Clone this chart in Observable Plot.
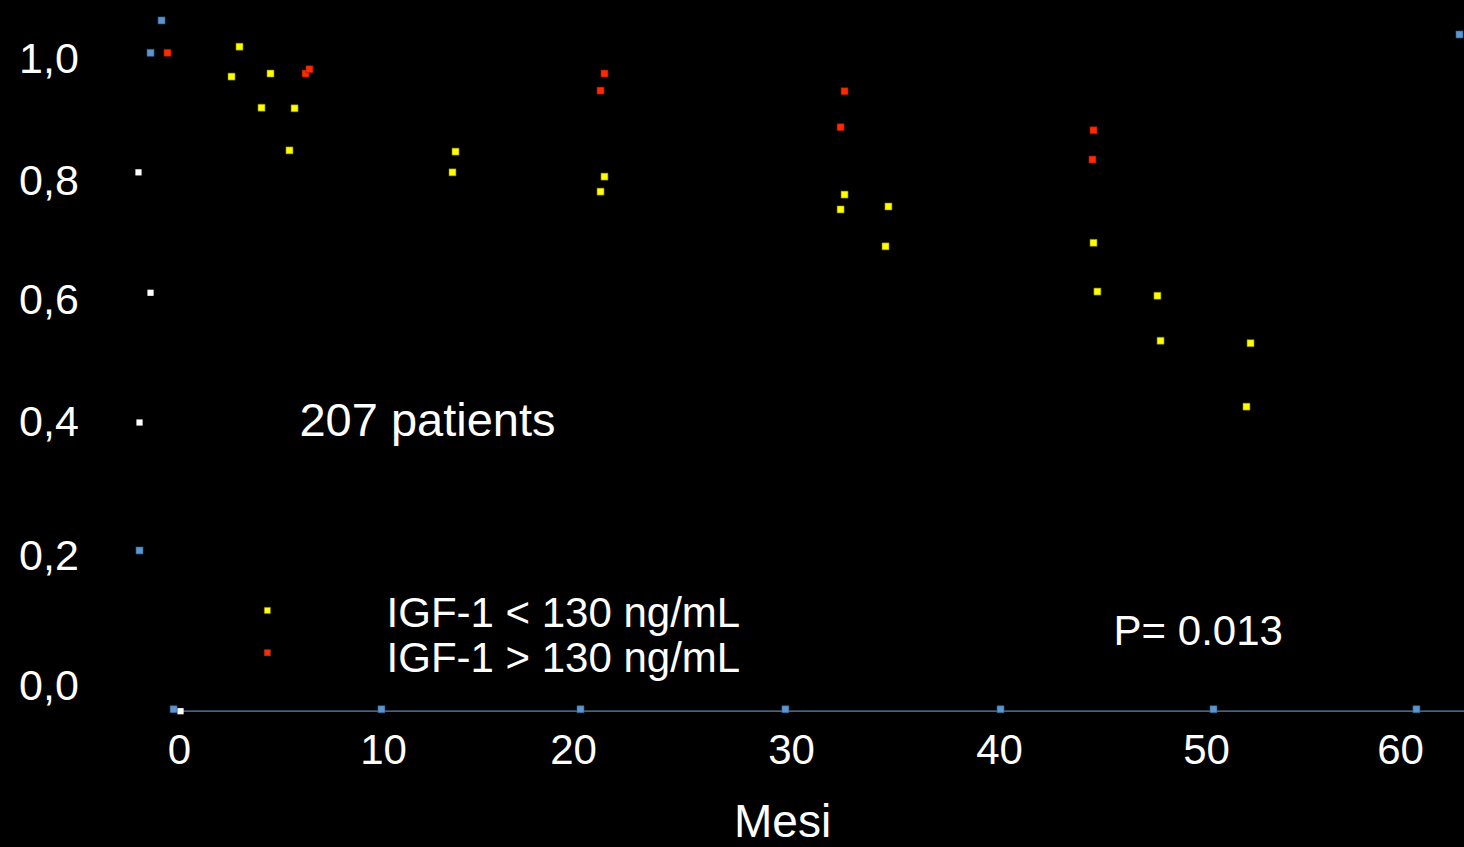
<!DOCTYPE html>
<html>
<head>
<meta charset="utf-8">
<script src="https://cdn.jsdelivr.net/npm/d3@7"></script>
<script src="https://cdn.jsdelivr.net/npm/@observablehq/plot@0.6"></script>
<style>
  html, body { margin: 0; padding: 0; background: #000; overflow: hidden; }
  #chart svg { display: block; }
</style>
</head>
<body>
<div id="chart"></div>
<script>
// ---- Data ----
const xTicks = [0, 10, 20, 30, 40, 50, 60];
const xTickLabels = ["0", "10", "20", "30", "40", "50", "60"];
const yTicks = [0, 0.2, 0.4, 0.6, 0.8, 1.0];
const yTickLabels = ["0,0", "0,2", "0,4", "0,6", "0,8", "1,0"];

// IGF-1 < 130 ng/mL (yellow)
const lowMonths = [2.94, 2.55, 4.46, 4.02, 5.64, 5.39, 13.79, 13.63, 21.42, 21.24, 32.55, 32.36, 34.66, 34.52, 44.54, 44.73, 47.63, 47.78, 52.27, 52.06];
const lowSurv   = [1.021, 0.972, 0.977, 0.921, 0.920, 0.851, 0.849, 0.815, 0.808, 0.783, 0.778, 0.753, 0.758, 0.691, 0.697, 0.615, 0.608, 0.534, 0.530, 0.426];

// IGF-1 > 130 ng/mL (red)
const highMonths = [-0.59, 6.18, 6.37, 21.42, 21.24, 32.55, 32.36, 44.54, 44.49];
const highSurv   = [1.011, 0.977, 0.984, 0.977, 0.949, 0.948, 0.889, 0.884, 0.836];

// stray white markers
const whiteMonths = [-2.01, -1.42, -1.96, 0.05];
const whiteSurv   = [0.815, 0.613, 0.400, -0.038];

// stray blue markers (incl. those sitting on the axis)
const blueMonths = [-0.88, -1.42, -1.96, 63.04, -0.29, 9.90, 20.32, 29.72, 40.05, 50.36, 60.82];
const blueSurv   = [1.064, 1.011, 0.209, 1.041, -0.035, -0.035, -0.035, -0.035, -0.035, -0.035, -0.035];

const legendLabels = ["IGF-1 < 130 ng/mL", "IGF-1 > 130 ng/mL"];
const legendColors = ["#ffff00", "#ff2a00"];
const legendSurv = [0.112, 0.043];
const legendSwatchSurv = [0.117, 0.052];

const axisLevel = -0.038;
const axisStart = 0.05, axisEnd = 65;

// ---- Build tables ----
const zip = (xs, ys) => xs.map((x, i) => ({x, y: ys[i]}));
const low = zip(lowMonths, lowSurv);
const high = zip(highMonths, highSurv);
const white = zip(whiteMonths, whiteSurv);
const blue = zip(blueMonths, blueSurv);
const xLab = xTicks.map((t, i) => ({t, label: xTickLabels[i]}));
const yLab = yTicks.map((t, i) => ({t, label: yTickLabels[i]}));
const legend = legendLabels.map((l, i) => ({l, c: legendColors[i], y: legendSurv[i], ys: legendSwatchSurv[i]}));

const font = "Arial, 'Liberation Sans', sans-serif";
const sq = 3.95; // square symbol radius (~7px side)

const chart = Plot.plot({
  width: 1464,
  height: 847,
  margin: 0,
  style: {background: "#000", color: "#fff", fontFamily: font},
  x: {type: "linear", axis: null, domain: xTicks, range: [179, 383, 573, 791, 999, 1206, 1400]},
  y: {type: "linear", axis: null, domain: yTicks, range: [686, 556, 422, 300, 181, 59]},
  marks: [
    // axis line
    Plot.ruleY([axisLevel], {x1: axisStart, x2: axisEnd, stroke: "#5a87c0", strokeWidth: 1.3}),
    // x tick labels
    Plot.text(xLab, {x: "t", y: -0.098, text: "label", fill: "#fff", fontSize: 42, textAnchor: "middle", lineAnchor: "middle"}),
    // y tick labels
    Plot.text(yLab, {x: -6.4, y: "t", text: "label", fill: "#fff", fontSize: 43, textAnchor: "middle", lineAnchor: "middle"}),
    // axis title
    Plot.text(["Mesi"], {x: 29.59, y: -0.209, text: d => d, fill: "#fff", fontSize: 46, textAnchor: "middle", lineAnchor: "middle"}),
    // annotations
    Plot.text(["207 patients"], {x: 5.88, y: 0.403, text: d => d, fill: "#fff", fontSize: 47, textAnchor: "start", lineAnchor: "middle"}),
    Plot.text(["P= 0.013"], {x: 45.51, y: 0.085, text: d => d, fill: "#fff", fontSize: 42, textAnchor: "start", lineAnchor: "middle"}),
    // legend
    Plot.text(legend, {x: 10.16, y: "y", text: "l", fill: "#fff", fontSize: 42, textAnchor: "start", lineAnchor: "middle"}),
    Plot.dot(legend, {x: 4.31, y: "ys", symbol: "square", r: 3.7, fill: "c", stroke: "#333", strokeWidth: 0.6}),
    // markers
    Plot.dot(blue, {x: "x", y: "y", symbol: "square", r: sq, fill: "#5b96d0", stroke: "#2f5a86", strokeWidth: 0.6}),
    Plot.dot(white, {x: "x", y: "y", symbol: "square", r: 3.5, fill: "#ffffff"}),
    Plot.dot(low, {x: "x", y: "y", symbol: "square", r: sq, fill: "#ffff00", stroke: "#7a7a00", strokeWidth: 0.6}),
    Plot.dot(high, {x: "x", y: "y", symbol: "square", r: sq, fill: "#ff2a00", stroke: "#8a1800", strokeWidth: 0.6})
  ]
});
document.getElementById("chart").appendChild(chart);
</script>
</body>
</html>
